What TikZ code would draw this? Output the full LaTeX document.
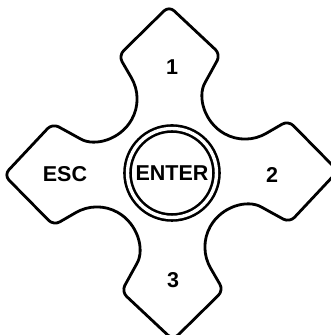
\documentclass[tikz,border=0pt]{standalone}
\usepackage{fontspec}
\setmainfont{Liberation Sans}
\begin{document}
\begin{tikzpicture}[x=1pt,y=1pt,
  outline/.style={line width=2.8pt, line join=round},
  lbl/.style={font=\fontsize{21.5}{24}\selectfont\bfseries, inner sep=0pt},
  enterbtn/.style={circle, draw, line width=2.6pt, double, double distance=3.4pt, minimum size=89pt, inner sep=0pt}]
\useasboundingbox (-171,-162) rectangle (160,173);
\begin{scope}[rotate=0.7]
\draw[outline] (-38.6,96)
  {[rounded corners=7pt] -- (-51,118) -- (0,167) -- (51,118) -- (38.6,96)}
  arc[start angle=150, end angle=300, radius=42]
  {[rounded corners=7pt] -- (118,51) -- (167,0) -- (118,-51) -- (96,-38.6)}
  arc[start angle=60, end angle=210, radius=42]
  {[rounded corners=7pt] -- (51,-118) -- (0,-167) -- (-51,-118) -- (-38.6,-96)}
  arc[start angle=-30, end angle=120, radius=42]
  {[rounded corners=7pt] -- (-118,-51) -- (-167,0) -- (-118,51) -- (-96,38.6)}
  arc[start angle=240, end angle=390, radius=42] -- cycle;
\node[enterbtn] (enter) at (1,0) {};
\end{scope}
\node[lbl] (entertxt) at (enter.center) {ENTER};
\node[lbl] (one) at (1,106) {1};
\node[lbl] (two) at (101,-2) {2};
\node[lbl] (three) at (2,-107) {3};
\node[lbl] (esc) at (-106,-1) {ESC};
\end{tikzpicture}
\end{document}
